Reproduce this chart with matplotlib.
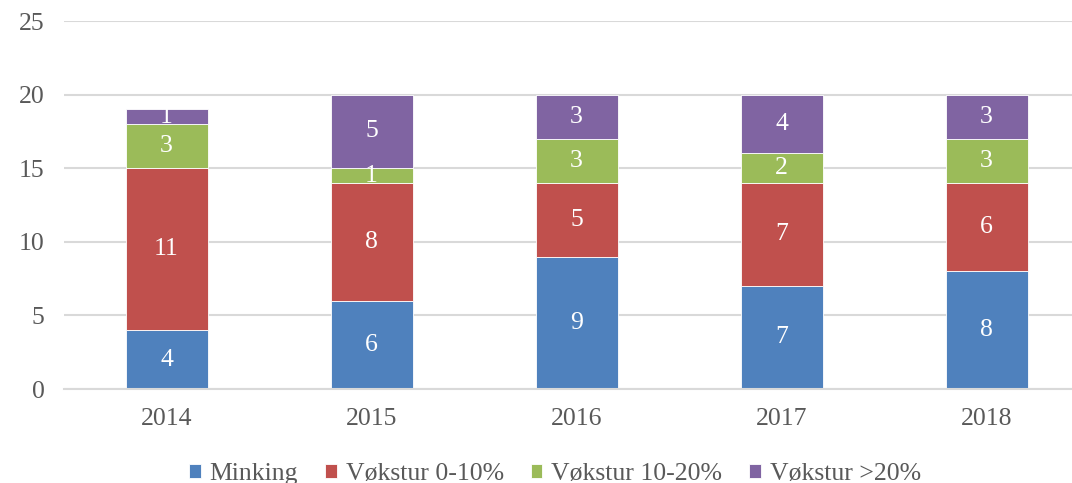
import numpy as np
import matplotlib
matplotlib.use("Agg")
import matplotlib.pyplot as plt

years = ["2014", "2015", "2016", "2017", "2018"]
minking = [4, 6, 9, 7, 8]
vekst_0_10 = [11, 8, 5, 7, 6]
vekst_10_20 = [3, 1, 3, 2, 3]
vekst_20 = [1, 5, 3, 4, 3]

series = [minking, vekst_0_10, vekst_10_20, vekst_20]
names = ["Minking", "Vøkstur 0-10%", "Vøkstur 10-20%", "Vøkstur >20%"]
colors = ["#4F81BD", "#C0504D", "#9BBB59", "#8064A2"]

plt.rcParams['font.family'] = ['Liberation Serif', 'DejaVu Serif']
fs = 18.5

fig = plt.figure(figsize=(10.72, 4.83), dpi=100)
ax = fig.add_axes([64/1072, 1-389/483, 1025/1072, 368/483])

x = np.arange(len(years))
bottom = np.zeros(len(years))
for vals, name, c in zip(series, names, colors):
    bars = ax.bar(x, vals, 0.4, bottom=bottom, color=c, label=name,
                  edgecolor="white", linewidth=0.6, zorder=2)
    ax.bar_label(bars, labels=[str(v) for v in vals], label_type="center",
                 color="white", fontsize=fs)
    bottom += np.array(vals)

ax.set_xlim(-0.5, 4.5)
ax.set_ylim(0, 25)
ax.set_yticks(range(0, 26, 5))
ax.set_xticks(x)
ax.set_xticklabels(years)
ax.tick_params(axis="both", length=0, labelsize=fs, labelcolor="#595959")
ax.tick_params(axis="y", pad=14)
ax.tick_params(axis="x", pad=14)
ax.grid(axis="y", color="#D9D9D9", linewidth=1.5, zorder=0)
for s in ["top", "right", "left"]:
    ax.spines[s].set_visible(False)
ax.spines["bottom"].set_color("#D9D9D9")
ax.spines["bottom"].set_linewidth(1.5)

fig.legend(loc="center", bbox_to_anchor=(555/1072, 1-474/483), ncol=4,
           frameon=False, fontsize=fs, handlelength=0.45, handleheight=0.5,
           handletextpad=0.35, columnspacing=1.05, labelcolor="#595959")

fig.savefig("out.png", dpi=100)
